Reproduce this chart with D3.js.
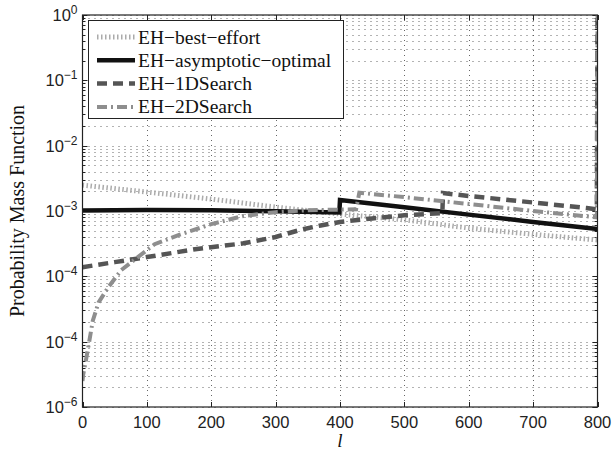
<!DOCTYPE html>
<html lang="en">
<head>
    <meta charset="UTF-8">
    <title>PMF</title>
    <script src="https://d3js.org/d3.v7.min.js"></script>
    <style>
        body { margin: 0; background: #fff; }
        .tick-label { font-family: "Liberation Sans", Arial, sans-serif; font-size: 16.5px; fill: #222; }
        .serif { font-family: "Liberation Serif", "Times New Roman", serif; fill: #111; }
    </style>
</head>
<body>
<svg width="612" height="455"></svg>
<script>
    // series
    const bestL = [0, 100, 200, 300, 400, 500, 600, 700, 800];
    const bestV = [2.49e-3, 1.95e-3, 1.52e-3, 1.15e-3, 9.0e-4, 7.3e-4, 5.5e-4, 4.4e-4, 3.6e-4];

    const asymL = [0, 100, 200, 300, 399, 400, 500, 600, 700, 800];
    const asymV = [1.02e-3, 1.04e-3, 1.03e-3, 9.9e-4, 9.5e-4, 1.47e-3, 1.14e-3, 8.8e-4, 6.8e-4, 5.3e-4];

    const oneL = [0, 50, 100, 175, 250, 300, 340, 370, 400, 450, 500, 559, 560, 600, 700, 783, 799, 800];
    const oneV = [1.38e-4, 1.65e-4, 1.97e-4, 2.6e-4, 3.2e-4, 4.0e-4, 5.2e-4, 6.0e-4, 6.8e-4, 7.7e-4, 8.6e-4, 9.3e-4,
                  1.88e-3, 1.7e-3, 1.35e-3, 1.11e-3, 1.06e-3, 1];

    const twoL = [0, 1, 4, 9, 16, 25, 40, 60, 86, 112, 150, 200, 250, 300, 350, 400, 425, 430, 500, 600, 700, 799, 800];
    const twoV = [2.5e-6, 3.1e-6, 4.4e-6, 8.3e-6, 2.1e-5, 4.0e-5, 6.8e-5, 1.24e-4, 1.97e-4, 3.1e-4, 4.3e-4, 6.3e-4,
                  8.4e-4, 9.6e-4, 1.03e-3, 1.05e-3, 1.06e-3, 1.9e-3, 1.63e-3, 1.28e-3, 1.0e-3, 8.0e-4, 1];

    const xTicks = [0, 100, 200, 300, 400, 500, 600, 700, 800];
    const yTicks = [1, 1e-1, 1e-2, 1e-3, 1e-4, 1e-5, 1e-6];
    const yTickExp = ["0", "\u22121", "\u22122", "\u22123", "\u22124", "\u22124", "\u22126"]; // as printed

    const legendNames = ["EH\u2212best\u2212effort", "EH\u2212asymptotic\u2212optimal", "EH\u22121DSearch", "EH\u22122DSearch"];

    const styles = [
        {stroke: "#ababab", width: 5, dash: "1.5,2.5"},
        {stroke: "#111", width: 4.5, dash: null},
        {stroke: "#555", width: 4.5, dash: "10,6"},
        {stroke: "#8e8e8e", width: 4, dash: "10,4,2,4"}
    ];

    const pLeft = 82.5, pRight = 597.5, pTop = 15, pBottom = 407;

    const svg = d3.select("svg");

    const x = d3.scaleLinear().domain([0, 800]).range([pLeft, pRight]);
    const y = d3.scaleLog().domain([1e-6, 1]).range([pBottom, pTop]);

    svg.append("defs").append("clipPath").attr("id", "plot")
       .append("rect").attr("x", pLeft).attr("y", pTop).attr("width", pRight - pLeft).attr("height", pBottom - pTop);

    // grid: every log minor value + vertical majors
    const minors = [];
    for (let d = -6; d < 0; d++) {
        for (let m = 1; m <= 9; m++) minors.push(m * Math.pow(10, d));
    }
    minors.push(1);

    const grid = svg.append("g").attr("stroke", "#555").attr("stroke-width", 0.9);
    grid.selectAll(".hg").data(minors).enter().append("line")
        .attr("stroke-dasharray", "1,5")
        .attr("x1", pLeft).attr("x2", pRight)
        .attr("y1", d => Math.round(y(d)) + 0.5).attr("y2", d => Math.round(y(d)) + 0.5);
    grid.selectAll(".vg").data(xTicks.slice(1, -1)).enter().append("line")
        .attr("stroke-dasharray", "1,4")
        .attr("y1", pTop).attr("y2", pBottom)
        .attr("x1", d => Math.round(x(d)) + 0.5).attr("x2", d => Math.round(x(d)) + 0.5);

    // ticks (inward, all four sides)
    const tk = svg.append("g").attr("stroke", "#222").attr("stroke-width", 1);
    xTicks.forEach(t => {
        const px = Math.round(x(t)) + 0.5;
        tk.append("line").attr("x1", px).attr("x2", px).attr("y1", pBottom).attr("y2", pBottom - 5);
        tk.append("line").attr("x1", px).attr("x2", px).attr("y1", pTop).attr("y2", pTop + 5);
    });
    minors.forEach(v => {
        const py = Math.round(y(v)) + 0.5;
        const len = yTicks.includes(v) ? 5 : 3;
        tk.append("line").attr("x1", pLeft).attr("x2", pLeft + len).attr("y1", py).attr("y2", py);
        tk.append("line").attr("x1", pRight).attr("x2", pRight - len).attr("y1", py).attr("y2", py);
    });

    // series
    const line = d3.line().x(d => x(d[0])).y(d => y(d[1]));
    const series = [
        d3.zip(bestL, bestV),
        d3.zip(asymL, asymV),
        d3.zip(oneL, oneV),
        d3.zip(twoL, twoV)
    ];
    const lines = svg.append("g").attr("clip-path", "url(#plot)");
    series.forEach((s, i) => {
        const st = styles[i];
        lines.append("path")
             .attr("d", i === 0 ? line.curve(d3.curveMonotoneX)(s) : line.curve(d3.curveLinear)(s))
             .attr("fill", "none")
             .attr("stroke", st.stroke)
             .attr("stroke-width", st.width)
             .attr("stroke-dasharray", st.dash);
    });

    // frame
    svg.append("rect").attr("x", pLeft).attr("y", pTop).attr("width", pRight - pLeft).attr("height", pBottom - pTop)
       .attr("fill", "none").attr("stroke", "#222").attr("stroke-width", 1.2);

    // x tick labels
    svg.selectAll(".xl").data(xTicks).enter().append("text")
       .attr("class", "tick-label")
       .attr("x", d => x(d)).attr("y", pBottom + 21)
       .attr("text-anchor", "middle")
       .text(d => d);

    // y tick labels 10^k
    yTicks.forEach((v, i) => {
        const t = svg.append("text").attr("class", "tick-label")
            .attr("x", pLeft - 5).attr("y", y(v) + 6).attr("text-anchor", "end");
        t.append("tspan").text("10");
        t.append("tspan").attr("dy", -7).style("font-size", "12px").text(yTickExp[i]);
    });

    // axis titles
    svg.append("text").attr("class", "serif")
       .attr("transform", `translate(24,${(pTop + pBottom) / 2}) rotate(-90)`)
       .attr("text-anchor", "middle").style("font-size", "20px")
       .text("Probability Mass Function");

    svg.append("text").attr("class", "serif")
       .attr("x", (pLeft + pRight) / 2).attr("y", 447)
       .attr("text-anchor", "middle").style("font-size", "19px").style("font-style", "italic")
       .text("l");

    // legend
    const lg = svg.append("g");
    lg.append("rect").attr("x", 88.5).attr("y", 20.5).attr("width", 255).attr("height", 98)
      .attr("fill", "#fff").attr("stroke", "#222").attr("stroke-width", 1);
    legendNames.forEach((name, i) => {
        const cy = 37 + i * 23.3;
        const st = styles[i];
        lg.append("line").attr("x1", 97).attr("x2", 135).attr("y1", cy).attr("y2", cy)
          .attr("stroke", st.stroke).attr("stroke-width", st.width).attr("stroke-dasharray", st.dash);
        lg.append("text").attr("class", "serif")
          .attr("x", 138).attr("y", cy + 6.5).style("font-size", "19.5px")
          .text(name);
    });
</script>
</body>
</html>
